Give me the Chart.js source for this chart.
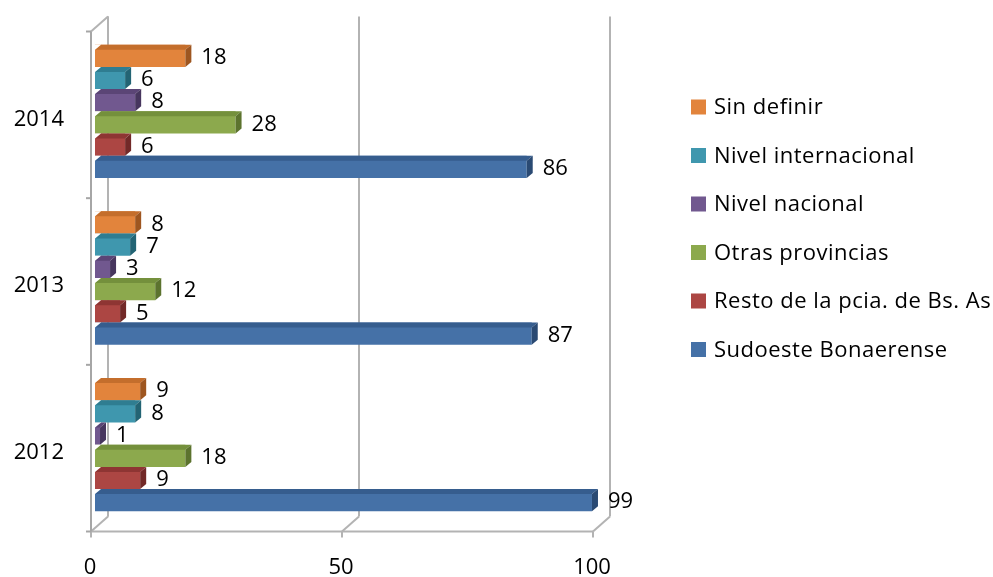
<!DOCTYPE html>
<html>
<head>
<meta charset="utf-8">
<script src="https://cdn.jsdelivr.net/npm/chart.js@4/dist/chart.umd.min.js"></script>
<style>
html,body{margin:0;padding:0;background:#fff;}
canvas{display:block;}
</style>
</head>
<body>
<canvas id="c" width="993" height="577"></canvas>
<script>
// ---- data ----
const categories = ['2014', '2013', '2012'];
const seriesNames = ['Sin definir', 'Nivel internacional', 'Nivel nacional', 'Otras provincias', 'Resto de la pcia. de Bs. As', 'Sudoeste Bonaerense'];
const sinDefinir = [18, 8, 9];
const nivelInternacional = [6, 7, 8];
const nivelNacional = [8, 3, 1];
const otrasProvincias = [28, 12, 18];
const restoPcia = [6, 5, 9];
const sudoeste = [86, 87, 99];
const xTicks = [0, 50, 100];

// ---- styles ----
const frontColors = ['#E2843C', '#3F97AE', '#71588F', '#8CA94D', '#AC4643', '#4571A7'];
const topColors   = ['#C46E2C', '#2F7D91', '#5B4576', '#74903C', '#8E3533', '#365D8E'];
const sideColors  = ['#9E5620', '#236474', '#47365E', '#5C732E', '#722928', '#2A4A73'];
const FONT = "'Open Sans'";
const DX = 6, DY = 5;            // bar depth
const FRONT = {dx: -4, dy: 3.5}; // front plane offset from bar plane
const BACK = {dx: 13, dy: -11.5}; // back wall offset from bar plane

const seriesValues = [sinDefinir, nivelInternacional, nivelNacional, otrasProvincias, restoPcia, sudoeste];

const frame3d = {
  id: 'frame3d',
  beforeDatasetsDraw(chart) {
    const ctx = chart.ctx, xs = chart.scales.x, ca = chart.chartArea;
    const yTop = ca.top, yBot = ca.bottom;
    ctx.save();
    ctx.strokeStyle = '#B3B3B3';
    ctx.lineWidth = 2;
    const line = (x1, y1, x2, y2) => { ctx.beginPath(); ctx.moveTo(x1, y1); ctx.lineTo(x2, y2); ctx.stroke(); };
    const x0 = xs.getPixelForValue(0);
    // left walls
    line(x0 + BACK.dx, yTop + BACK.dy, x0 + BACK.dx, yBot + BACK.dy);
    line(x0 + FRONT.dx, yTop + FRONT.dy, x0 + BACK.dx, yTop + BACK.dy);
    // back gridlines, floor slants, x ticks
    xTicks.forEach(v => {
      const p = xs.getPixelForValue(v);
      line(p + BACK.dx, yTop + BACK.dy, p + BACK.dx, yBot + BACK.dy);
      line(p + FRONT.dx, yBot + FRONT.dy, p + BACK.dx, yBot + BACK.dy);
      line(p + FRONT.dx, yBot + FRONT.dy, p + FRONT.dx, yBot + FRONT.dy + 6);
    });
    // floor front
    line(x0 + FRONT.dx, yBot + FRONT.dy, xs.getPixelForValue(xTicks[xTicks.length - 1]) + FRONT.dx, yBot + FRONT.dy);
    // front left axis with category ticks
    ctx.strokeStyle = '#A6A6A6';
    line(x0 + FRONT.dx, yTop + FRONT.dy, x0 + FRONT.dx, yBot + FRONT.dy);
    const n = categories.length;
    for (let i = 0; i <= n; i++) {
      const y = yTop + (yBot - yTop) * i / n + FRONT.dy;
      line(x0 + FRONT.dx - 5, y, x0 + FRONT.dx, y);
    }
    ctx.restore();
  },
  afterDatasetsDraw(chart) {
    const ctx = chart.ctx;
    ctx.save();
    for (let d = chart.data.datasets.length - 1; d >= 0; d--) {
      const meta = chart.getDatasetMeta(d);
      meta.data.forEach((bar, i) => {
        const {x, y, base, height} = bar.getProps(['x', 'y', 'base', 'height'], true);
        const top = y - height / 2, bot = y + height / 2;
        // top face
        ctx.fillStyle = topColors[d];
        ctx.beginPath();
        ctx.moveTo(base, top + DY);
        ctx.lineTo(base + DX, top);
        ctx.lineTo(x + DX, top);
        ctx.lineTo(x, top + DY);
        ctx.closePath();
        ctx.fill();
        // clear the small corner above the slant
        ctx.fillStyle = '#fff';
        ctx.beginPath();
        ctx.moveTo(base, top);
        ctx.lineTo(base + DX, top);
        ctx.lineTo(base, top + DY);
        ctx.closePath();
        ctx.fill();
        // side face
        ctx.fillStyle = sideColors[d];
        ctx.beginPath();
        ctx.moveTo(x, top + DY);
        ctx.lineTo(x + DX, top);
        ctx.lineTo(x + DX, bot - DY);
        ctx.lineTo(x, bot);
        ctx.closePath();
        ctx.fill();
      });
    }
    // value labels
    ctx.fillStyle = '#000';
    ctx.font = "22px " + FONT;
    ctx.textAlign = 'left';
    ctx.textBaseline = 'middle';
    chart.data.datasets.forEach((ds, d) => {
      chart.getDatasetMeta(d).data.forEach((bar, i) => {
        const {x, y} = bar.getProps(['x', 'y'], true);
        ctx.fillText(String(ds.data[i]), x + 16, y + 2);
      });
    });
    // legend
    if ('letterSpacing' in ctx) ctx.letterSpacing = '0.5px';
    chart.data.datasets.forEach((ds, d) => {
      const cy = 107 + d * 48.5;
      ctx.fillStyle = frontColors[d];
      ctx.fillRect(691, cy - 7.5, 15, 15);
      ctx.fillStyle = '#000';
      ctx.fillText(ds.label, 714, cy + 1);
    });
    ctx.restore();
  }
};

function build() {
  Chart.defaults.font.family = FONT;
  Chart.defaults.color = '#000';
  new Chart(document.getElementById('c'), {
    type: 'bar',
    data: {
      labels: categories,
      datasets: seriesNames.map((name, k) => ({
        label: name,
        data: seriesValues[k],
        backgroundColor: frontColors[k],
        borderWidth: 0,
        categoryPercentage: 0.8,
        barPercentage: 1.0
      }))
    },
    options: {
      indexAxis: 'y',
      responsive: false,
      animation: false,
      layout: {padding: {left: 0, top: 28, right: 396, bottom: 0}},
      plugins: {legend: {display: false}, tooltip: {enabled: false}},
      scales: {
        x: {
          min: 0, max: 100,
          afterBuildTicks: s => { s.ticks = xTicks.map(v => ({value: v})); },
          afterFit: s => { s.height = 49; s.paddingLeft = 0; s.paddingRight = 0; },
          grid: {display: false, drawTicks: false},
          border: {display: false},
          ticks: {font: {size: 22}, color: '#000', padding: 27, labelOffset: -5, maxRotation: 0}
        },
        y: {
          afterFit: s => { s.width = 95; s.paddingTop = 0; s.paddingBottom = 0; },
          grid: {display: false, drawTicks: false},
          border: {display: false},
          ticks: {font: {size: 22}, color: '#000', padding: 31, labelOffset: 8}
        }
      }
    },
    plugins: [frame3d]
  });
}
if (document.fonts && document.fonts.load) {
  document.fonts.load("22px 'Open Sans'").then(build, build);
} else { build(); }
</script>
</body>
</html>
